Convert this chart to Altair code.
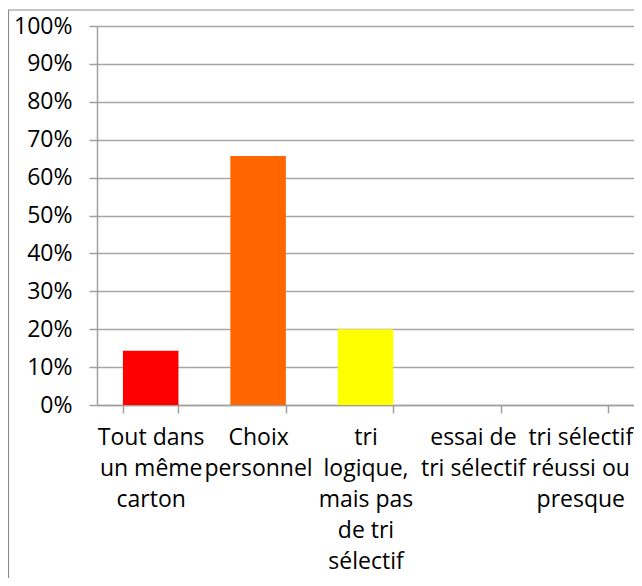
import altair as alt
import pandas as pd

categories = [
    "Tout dans\nun même\ncarton",
    "Choix\npersonnel",
    "tri\nlogique,\nmais pas\nde tri\nsélectif",
    "essai de\ntri sélectif",
    "tri sélectif\nréussi ou\npresque",
]
values = [0.143, 0.657, 0.200, 0.0, 0.0]
colors = ["#FF0000", "#FF6600", "#FFFF00", "#4F81BD", "#4F81BD"]

df = pd.DataFrame({"cat": categories, "val": values, "col": colors})

W, H = 537, 379
FONT = "Open Sans"

x_enc = alt.X(
    "cat:N",
    sort=categories,
    scale=alt.Scale(paddingInner=0.483, paddingOuter=0.2415),
    axis=alt.Axis(
        title=None,
        labelAngle=0,
        labelExpr="split(datum.label, '\\n')",
        labelFont=FONT,
        labelFontSize=23,
        labelColor="#000000",
        labelLineHeight=31,
        labelPadding=13,
        labelBaseline="top",
        labelAlign="center",
        tickBand="extent",
        tickSize=8,
        tickColor="#a0a0a0",
        tickWidth=1.5,
        domainColor="#a0a0a0",
        domainWidth=1.5,
        grid=False,
        labelLimit=0,
    ),
)

bars = alt.Chart(df).mark_bar().encode(
    x=x_enc,
    y=alt.Y(
        "val:Q",
        scale=alt.Scale(domain=[0, 1], nice=False),
        axis=alt.Axis(
            title=None,
            format=".0%",
            values=[i / 10 for i in range(11)],
            labelFont=FONT,
            labelFontSize=23,
            labelColor="#000000",
            labelPadding=17,
            tickSize=8,
            tickColor="#a0a0a0",
            tickWidth=1.5,
            domainColor="#a0a0a0",
            domainWidth=1.5,
            grid=True,
            gridColor="#a6a6a6",
            gridWidth=1.5,
        ),
    ),
    color=alt.Color("col:N", scale=None, legend=None),
)

frame = alt.Chart(pd.DataFrame({"a": [0]})).mark_rect(
    fill=None, stroke="#8c8c8c", strokeWidth=1.2, clip=False
).encode(
    x=alt.value(-88.5),
    x2=alt.value(W + 60),
    y=alt.value(-16),
    y2=alt.value(H + 300),
)

chart = (
    alt.layer(bars, frame)
    .properties(
        width=W,
        height=H,
        autosize=alt.AutoSizeParams(type="none"),
        padding={"left": 89, "top": 18, "right": 0, "bottom": 173},
    )
    .configure_view(stroke=None)
    .configure(background="white")
)

chart.save("out.html", embed_options={"renderer": "svg", "actions": False})
